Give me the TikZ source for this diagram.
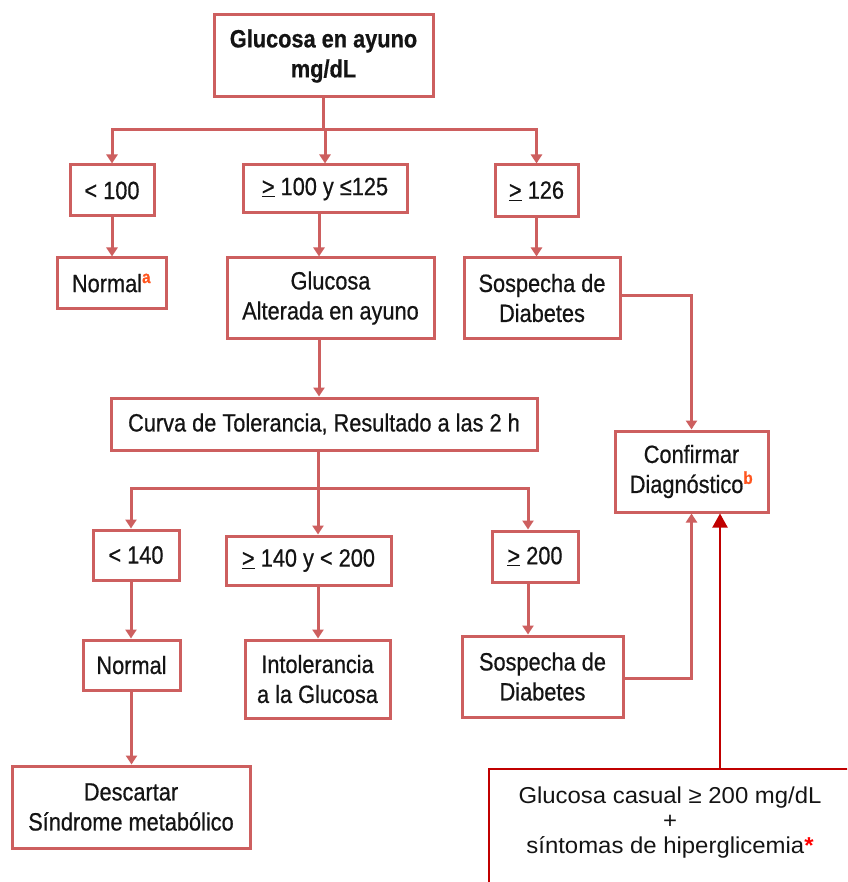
\documentclass[tikz,border=0pt]{standalone}
\usepackage{fontspec}
\setmainfont{Liberation Sans}
\newfontfamily\cond[FakeStretch=0.87,FakeBold=0.6]{Liberation Sans}
\newfontfamily\widef[FakeStretch=1.04]{Liberation Sans}
\usetikzlibrary{arrows.meta}
\definecolor{pk}{RGB}{205,95,95}
\definecolor{dr}{RGB}{192,0,0}
\definecolor{txt}{RGB}{20,20,20}
\definecolor{supc}{RGB}{255,85,30}
\begin{document}
\begin{tikzpicture}[x=1pt,y=-1pt,
 pbox/.style={draw=pk, line width=3pt, fill=white, inner sep=0pt, align=center, text=txt, font=\cond\fontsize{25}{30}\selectfont},
 conn/.style={draw=pk, line width=3pt},
 arr/.style={conn, -{Triangle[width=11pt,length=9pt]}},
 cbox/.style={draw=dr, line width=2pt, inner sep=0pt},
 ctext/.style={align=center, text=txt, font=\widef\fontsize{23}{25}\selectfont},
 bigarr/.style={draw=dr, line width=2pt, -{Triangle[width=15pt,length=14pt]}}]
\clip (0,0) rectangle (847,882);
\fill[white] (0,0) rectangle (847,882);
% boxes
\node[pbox, minimum width=219pt, minimum height=82pt] (top) at (323.5,56) {\bfseries Glucosa en ayuno\\\bfseries mg/dL};
\node[pbox, minimum width=84pt, minimum height=51pt] (lt100) at (112,190.5) {< 100};
\node[pbox, minimum width=164pt, minimum height=48pt] (mid) at (325,189) {\underline{>} 100 y ≤125};
\node[pbox, minimum width=83pt, minimum height=52pt] (ge126) at (536.5,191) {\underline{>} 126};
\node[pbox, minimum width=109pt, minimum height=50pt] (normal1) at (111.5,283) {Normal\textsuperscript{\textcolor{supc}{\bfseries a}}};
\node[pbox, minimum width=207pt, minimum height=80pt] (alterada) at (330.5,298) {Glucosa\\Alterada en ayuno};
\node[pbox, minimum width=156pt, minimum height=80pt] (sosp1) at (542,298) {Sospecha de\\Diabetes};
\node[pbox, minimum width=426pt, minimum height=52pt] (curva) at (324,424) {Curva de Tolerancia, Resultado a las 2 h};
\node[pbox, minimum width=153pt, minimum height=81pt] (confirmar) at (691.5,471.5) {Confirmar\\Diagnóstico\textsuperscript{\textcolor{supc}{\bfseries b}}};
\node[pbox, minimum width=86pt, minimum height=50pt] (lt140) at (136,555) {< 140};
\node[pbox, minimum width=165pt, minimum height=49pt] (mid2) at (308.5,560.5) {\underline{>} 140 y < 200};
\node[pbox, minimum width=86pt, minimum height=51pt] (ge200) at (535,556.5) {\underline{>} 200};
\node[pbox, minimum width=97pt, minimum height=50pt] (normal2) at (131.5,665) {Normal};
\node[pbox, minimum width=145pt, minimum height=78pt] (intol) at (317.5,679) {Intolerancia\\a la Glucosa};
\node[pbox, minimum width=161pt, minimum height=81pt] (sosp2) at (542.5,676.5) {Sospecha de\\Diabetes};
\node[pbox, minimum width=238pt, minimum height=82pt] (descartar) at (131,807) {Descartar\\Síndrome metabólico};
\node[cbox, minimum width=362pt, minimum height=142pt] (casual) at (670,840) {};
\node[ctext] (casualtext) at (670,823) {Glucosa casual ≥ 200 mg/dL\\+\\síntomas de hiperglicemia\textcolor{red}{\bfseries *}};
% connectors
\coordinate (j1) at (323.5,130);
\draw[conn] (top.south) -- (j1);
\draw[arr] (j1) -| (lt100.north);
\draw[arr] (j1) -| (ge126.north);
\draw[arr] (j1 -| mid.north) -- (mid.north);
\draw[arr] (lt100.south) -- (lt100.south |- normal1.north);
\draw[arr] ([xshift=-6pt]mid.south) -- ([xshift=-6pt]mid.south |- alterada.north);
\draw[arr] (ge126.south) -- (ge126.south |- sosp1.north);
\draw[arr] ([yshift=3pt]sosp1.east) -| (confirmar.north);
\draw[arr] ([xshift=-11.5pt]alterada.south) -- ([xshift=-11.5pt]alterada.south |- curva.north);
\coordinate (j2) at (318,488);
\draw[conn] (curva.south -| j2) -- (j2);
\draw[arr] (j2) -| ([xshift=-5pt]lt140.north);
\draw[arr] (j2) -| ([xshift=-7pt]ge200.north);
\draw[arr] (j2) -- (j2 |- mid2.north);
\draw[arr] ([xshift=-5pt]lt140.south) -- ([xshift=-5pt]lt140.south |- normal2.north);
\draw[arr] ([xshift=9.5pt]mid2.south) -- ([xshift=9.5pt]mid2.south |- intol.north);
\draw[arr] ([xshift=-7pt]ge200.south) -- ([xshift=-7pt]ge200.south |- sosp2.north);
\draw[arr] (normal2.south) -- (normal2.south |- descartar.north);
\draw[arr] ([yshift=-1.5pt]sosp2.east) -| (confirmar.south);
\draw[bigarr] ([xshift=50pt]casual.north) -- ([xshift=50pt]casual.north |- confirmar.south);
\end{tikzpicture}
\end{document}
